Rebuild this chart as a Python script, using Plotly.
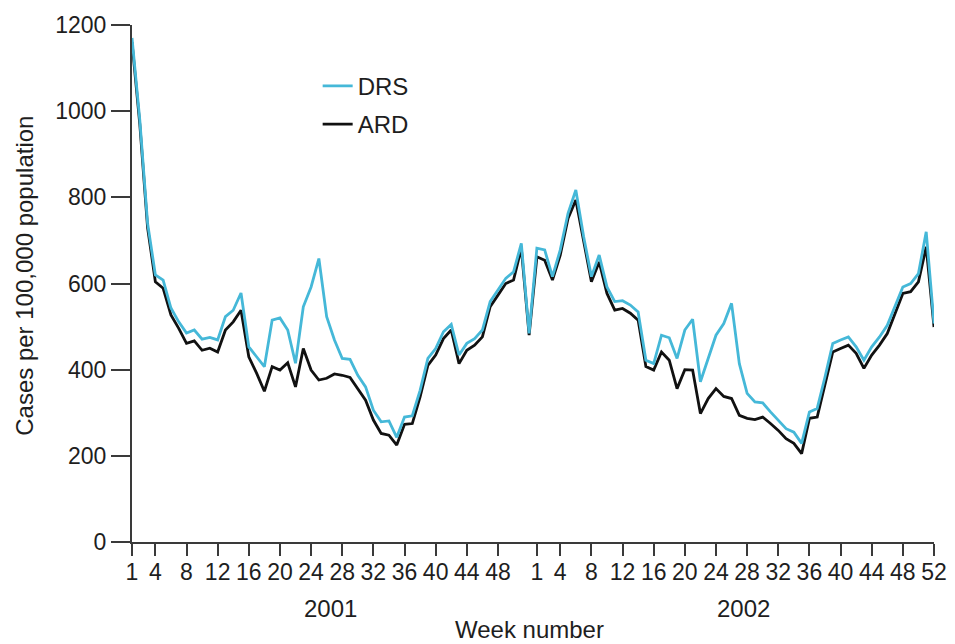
import plotly.graph_objects as go

drs_2001 = [1170, 980, 740, 620, 608, 543, 511, 485, 492, 471, 475, 469, 523, 538, 578, 453,
            430, 407, 515, 520, 492, 415, 546, 592, 658, 523, 469, 426, 424, 387, 360, 306,
            279, 281, 243, 290, 293, 352, 426, 449, 488, 505, 434, 461, 472, 492, 558, 585,
            612, 627, 693, 484]
ard_2001 = [1160, 970, 730, 604, 589, 527, 496, 461, 467, 445, 450, 441, 492, 511, 538, 430,
            392, 350, 407, 399, 416, 360, 449, 399, 376, 380, 390, 387, 382, 356, 329, 283,
            252, 248, 225, 273, 275, 337, 410, 434, 472, 492, 414, 445, 457, 476, 546, 573,
            600, 608, 682, 480]
drs_2002 = [682, 678, 616, 678, 763, 817, 709, 616, 666, 592, 558, 560, 550, 534, 422, 414,
            480, 474, 426, 492, 517, 372, 426, 480, 507, 554, 414, 345, 325, 323, 302, 283,
            263, 255, 229, 302, 310, 383, 461, 469, 476, 453, 422, 453, 476, 503, 546, 592,
            600, 623, 720, 507]
ard_2002 = [662, 654, 608, 666, 751, 794, 701, 604, 650, 577, 538, 542, 531, 515, 407, 399,
            441, 422, 356, 400, 399, 298, 333, 356, 338, 333, 294, 287, 284, 290, 275, 259,
            240, 229, 205, 287, 290, 368, 441, 449, 457, 438, 403, 434, 457, 484, 531, 577,
            581, 604, 685, 499]

weeks = list(range(1, 53))
week_ticks_2001 = [1, 4, 8, 12, 16, 20, 24, 28, 32, 36, 40, 44, 48]
week_ticks_2002 = [1, 4, 8, 12, 16, 20, 24, 28, 32, 36, 40, 44, 48, 52]
y_ticks = [0, 200, 400, 600, 800, 1000, 1200]

# continuous week index across the two years
x_idx = [w - 1 for w in weeks] + [52 + w - 1 for w in weeks]
tickvals = [w - 1 for w in week_ticks_2001] + [52 + w - 1 for w in week_ticks_2002]
ticktext = [str(w) for w in week_ticks_2001] + [str(w) for w in week_ticks_2002]

FONT = "Liberation Sans, Arial, Helvetica, sans-serif"
AX = "#3a3a3a"
TXT = "#1e1e1e"

fig = go.Figure()
fig.add_trace(go.Scatter(x=x_idx, y=ard_2001 + ard_2002, mode="lines", name="ARD",
                         line=dict(color="#111111", width=2.8), legendgroup="b", legendrank=2))
fig.add_trace(go.Scatter(x=x_idx, y=drs_2001 + drs_2002, mode="lines", name="DRS",
                         line=dict(color="#45b8d8", width=2.8), legendgroup="a", legendrank=1))

# the page body adds an 8px offset, so the figure is 8px smaller on each axis
fig.update_layout(
    width=947, height=636,
    margin=dict(l=124, r=21, t=17, b=102, autoexpand=False),
    paper_bgcolor="white", plot_bgcolor="white",
    font=dict(family=FONT, size=23, color=TXT),
    showlegend=True,
    legend=dict(x=0.2315, y=0.925, xanchor="left", yanchor="top",
                traceorder="grouped", tracegroupgap=4,
                font=dict(size=24, color=TXT), bgcolor="rgba(0,0,0,0)"),
    xaxis=dict(range=[0, 103], tickmode="array", tickvals=tickvals, ticktext=ticktext,
               automargin=False, ticklabelstandoff=-4,
               showgrid=False, zeroline=False, showline=True, linecolor=AX, linewidth=2,
               ticks="outside", ticklen=12, tickwidth=2, tickcolor=AX,
               tickfont=dict(size=23, color=TXT), tickangle=0),
    yaxis=dict(range=[0, 1200], tickmode="array", tickvals=y_ticks, automargin=False,
               showgrid=False, zeroline=False, showline=True, linecolor=AX, linewidth=2,
               ticks="outside", ticklen=19, tickwidth=2, tickcolor=AX,
               tickfont=dict(size=23, color=TXT)),
    annotations=[
        dict(text="2001", x=25.5, y=-0.128, xref="x", yref="paper", showarrow=False,
             font=dict(size=24), xanchor="center", yanchor="middle"),
        dict(text="2002", x=78.5, y=-0.128, xref="x", yref="paper", showarrow=False,
             font=dict(size=24), xanchor="center", yanchor="middle"),
        dict(text="Week number", x=51, y=-0.169, xref="x", yref="paper", showarrow=False,
             font=dict(size=24), xanchor="center", yanchor="middle"),
        dict(text="Cases per 100,000 population", x=-0.134, y=0.514, xref="paper",
             yref="paper", showarrow=False, textangle=-90, font=dict(size=24),
             xanchor="center", yanchor="middle"),
    ],
)

fig.write_html("out.html")
